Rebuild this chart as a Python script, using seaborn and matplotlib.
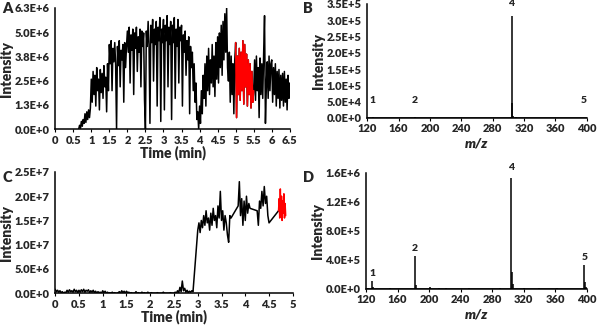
import numpy as np
import pandas as pd
import matplotlib.pyplot as plt
import matplotlib.ticker as mticker
import seaborn as sns

# ===============================
# Data
# ===============================
# Panel A: chromatogram, intensity in 1E+6, scans every 0.025 min from 0.65 min
a_start = 0.65
a_step = 0.025
a_vals = [
    0.0, 0.2, 0.05, 0.4, 0.15, 0.5, 0.3, 0.8, 0.35, 0.9, 0.5, 1.0, 0.6, 1.1,
    2.6, 1.4, 3.0, 1.8, 2.8, 1.2, 3.2, 2.0, 2.6, 1.0, 3.1, 1.9, 2.9, 1.6, 3.3, 2.2, 2.7, 0.9, 3.4, 2.0,
    4.4, 3.4, 4.6, 2.0, 4.2, 3.5, 4.5, 3.3, 0.0, 4.3, 3.3, 4.6, 2.2, 4.1, 3.6, 4.4, 1.4, 4.5, 3.2, 4.3,
    5.1, 4.0, 5.3, 2.4, 4.9, 4.1, 5.2, 1.8, 5.0, 4.2, 5.3, 3.0, 4.8, 4.0, 5.2, 2.2, 5.1, 4.3, 5.0, 1.5,
    0.0, 5.1, 4.3, 5.6, 4.4, 0.3, 5.4, 4.5, 5.7, 2.5, 5.2, 4.4, 5.6, 1.2, 5.3, 4.6, 5.8, 0.4, 5.2, 4.5,
    5.7, 1.0, 5.4, 4.6, 5.9, 2.2, 5.3, 4.4, 5.6, 0.5, 5.4, 4.5, 5.8, 1.6, 5.2, 4.3, 5.7, 2.4, 5.3, 4.6,
    5.4, 1.2, 4.9, 4.0, 5.1, 2.8, 4.6, 3.6, 4.8, 0.8, 4.3, 3.2, 4.0, 2.0, 3.4, 1.4, 2.4, 0.5, 0.9, 0.0,
    1.2, 0.3, 2.0, 0.8, 2.8, 1.6, 3.4, 1.2, 3.8, 2.0, 4.2, 1.8, 3.6, 2.4, 4.4, 2.2, 3.8, 1.7, 4.5, 2.6,
    4.8, 2.4, 5.0, 3.2, 5.4, 2.8, 5.6, 3.6, 6.0, 4.0, 6.3, 3.2, 2.5, 4.0, 1.4, 3.8, 1.8, 3.4, 0.8, 3.6,
    4.5, 0.6, 3.8, 1.8, 4.2, 1.5, 4.0, 2.0, 4.6, 1.3, 4.4, 2.2, 3.9, 1.2, 3.6, 1.8, 3.4, 1.1, 3.0, 1.4,
    2.0, 3.6, 1.5, 3.8, 2.0, 3.2, 0.6, 3.7, 1.8, 3.4, 1.6, 3.9, 5.9, 0.3, 2.2, 3.5, 1.6, 3.8, 2.0, 3.4,
    3.6, 1.4, 3.2, 1.8, 3.4, 1.2, 3.0, 1.6, 3.1, 1.1, 2.8, 1.5, 2.9, 1.2, 3.0, 1.4, 2.6, 1.0, 2.8, 1.6, 2.4,
]
a_red = (5.0, 5.5)

# Panel C: chromatogram, intensity in 1E+7, segments of scans every 0.025 min
c_starts = [0.0, 3.0, 3.85, 4.25]
c_segs = [
    [0.08, 0.03, 0.06, 0.02, 0.05, 0.01, 0.03, 0.0, 0.02, 0.01, 0.06, 0.02, 0.07, 0.03, 0.05, 0.02, 0.08, 0.03, 0.06, 0.01,
     0.06, 0.02, 0.07, 0.03, 0.08, 0.02, 0.06, 0.04, 0.07, 0.01, 0.05, 0.02, 0.06, 0.01, 0.04, 0.0, 0.03, 0.01, 0.02, 0.0,
     0.05, 0.01, 0.04, 0.0, 0.02, 0.0, 0.01, 0.0, 0.02, 0.0, 0.01, 0.0, 0.0, 0.01, 0.03, 0.0, 0.05, 0.01, 0.04, 0.0,
     0.04, 0.01, 0.02, 0.0, 0.01, 0.0, 0.0, 0.0, 0.03, 0.0, 0.01, 0.0, 0.0, 0.02, 0.0, 0.01, 0.0, 0.0, 0.02, 0.0,
     0.0, 0.01, 0.0, 0.0, 0.0, 0.0, 0.01, 0.0, 0.0, 0.0, 0.0, 0.02, 0.0, 0.0, 0.0, 0.0, 0.0, 0.01, 0.0, 0.0,
     0.0, 0.02, 0.0, 0.05, 0.01, 0.12, 0.03, 0.25, 0.05, 0.1, 0.02, 0.06, 0.01, 0.04, 0.02, 0.05, 0.03],
    [1.3, 1.45, 1.25, 1.5, 1.35, 1.6, 1.4, 1.7, 1.45, 1.55, 1.3, 1.65, 1.4, 1.75, 1.5, 1.6, 1.35, 1.8, 1.55, 2.1,
     1.5, 1.7, 1.3, 1.6, 1.45, 1.2, 1.05, 1.6, 1.55],
    [1.8, 2.3, 1.6, 1.95, 1.4, 1.9, 1.5, 2.0, 1.65, 1.85, 1.75],
    [1.7, 1.4, 1.9, 1.75, 2.1, 1.8, 2.2, 1.85, 2.0, 1.6, 1.45],
]
c_red_start = 4.7
c_red_step = 0.0125
c_red_vals = [1.7, 1.95, 1.55, 2.15, 1.6, 2.0, 1.5, 1.9, 1.65, 2.05, 1.55, 1.85, 1.6]

# Panels B and D: mass spectra (m/z, intensity)
b_mz = [124, 127, 150, 181, 200, 250, 300, 303, 304, 305, 306, 310, 340, 380, 397]
b_int = [800, 1500, 600, 2500, 900, 500, 700, 3000, 312000, 45000, 6000, 1200, 700, 500, 1000]
b_labels = [(127, 40000, '1'), (181, 40000, '2'), (304, 337000, '4'), (396, 40000, '5')]

d_mz = [122, 128, 129, 150, 182, 183, 201, 213, 222, 250, 290, 304, 305, 306, 320, 340, 362, 397, 398, 399]
d_int = [5000, 110000, 20000, 6000, 450000, 50000, 25000, 8000, 7000, 5000, 6000,
         1530000, 230000, 60000, 15000, 6000, 9000, 330000, 90000, 30000]
d_labels = [(128, 150000, '1'), (182, 490000, '2'), (304, 1620000, '4'), (397, 370000, '5')]

# ===============================
# Build tables
# ===============================
a_df = pd.DataFrame({'time': a_start + a_step * np.arange(len(a_vals)),
                     'intensity': np.array(a_vals) * 1e6})
a_red_df = a_df[(a_df['time'] >= a_red[0] - 1e-9) & (a_df['time'] <= a_red[1] + 1e-9)]

c_time, c_int = [], []
for start, seg in zip(c_starts, c_segs):
    c_time += list(start + 0.025 * np.arange(len(seg)))
    c_int += seg
c_red_time = list(c_red_start + c_red_step * np.arange(len(c_red_vals)))
c_df = pd.DataFrame({'time': c_time + c_red_time[:1],
                     'intensity': np.array(c_int + c_red_vals[:1]) * 1e7})
c_red_df = pd.DataFrame({'time': c_red_time, 'intensity': np.array(c_red_vals) * 1e7})

# ===============================
# Style
# ===============================
sns.set_style('white')
plt.rcParams['font.family'] = ['Lato', 'DejaVu Sans']
plt.rcParams['font.weight'] = 'bold'
plt.rcParams['axes.labelweight'] = 'bold'

TICK_FS = 8
LABEL_FS = 10


def sci_fmt(v, pos):
    if v == 0:
        return '0.0E+0'
    exp = int(np.floor(np.log10(abs(v)) + 1e-9))
    return f'{v / 10 ** exp:.1f}E+{exp}'


def style_axes(ax):
    for side in ['top', 'right']:
        ax.spines[side].set_visible(False)
    for side in ['left', 'bottom']:
        ax.spines[side].set_color('black')
        ax.spines[side].set_linewidth(1.1)
    ax.tick_params(axis='both', labelsize=TICK_FS, length=2.5, width=0.8, color='black',
                   direction='out', bottom=True, left=False, pad=1.5)
    ax.yaxis.set_major_formatter(mticker.FuncFormatter(sci_fmt))
    for lab in ax.get_xticklabels() + ax.get_yticklabels():
        lab.set_fontweight('heavy')


fig = plt.figure(figsize=(6, 3.32), dpi=100)
axA = fig.add_axes([0.092, 0.611, 0.391, 0.365])
axB = fig.add_axes([0.612, 0.645, 0.366, 0.343])
axC = fig.add_axes([0.092, 0.117, 0.396, 0.365])
axD = fig.add_axes([0.610, 0.130, 0.368, 0.349])

# ===============================
# Panel A
# ===============================
sns.lineplot(data=a_df, x='time', y='intensity', color='black', lw=1.1,
             estimator=None, sort=False, ax=axA)
sns.lineplot(data=a_red_df, x='time', y='intensity', color='red', lw=1.1,
             estimator=None, sort=False, ax=axA)
axA.set_xlim(0, 6.5)
axA.set_ylim(0, 6.3e6)
axA.set_xticks(np.arange(0, 6.51, 0.5))
axA.xaxis.set_major_formatter(mticker.FuncFormatter(lambda v, p: f'{v:g}'))
axA.set_yticks(np.linspace(0, 6.3e6, 6))
axA.set_xlabel('Time (min)', fontsize=LABEL_FS, fontweight='heavy', labelpad=0)
axA.set_ylabel('Intensity', fontsize=LABEL_FS, fontweight='heavy', labelpad=1)
style_axes(axA)

# ===============================
# Panel B
# ===============================
axB.vlines(b_mz, 0, b_int, color='black', lw=1.1)
axB.axhline(0, color='black', lw=1.1)
for x, y, t in b_labels:
    axB.text(x, y, t, fontsize=7.5, fontweight='heavy', ha='center', va='bottom')
axB.set_xlim(120, 400)
axB.set_ylim(0, 3.5e5)
axB.set_xticks(np.arange(120, 401, 40))
axB.set_yticks(np.arange(0, 3.51e5, 5e4))
axB.set_xlabel('m/z', fontsize=LABEL_FS, fontstyle='italic', fontweight='heavy', labelpad=2)
axB.set_ylabel('Intensity', fontsize=LABEL_FS, fontweight='heavy', labelpad=1)
style_axes(axB)

# ===============================
# Panel C
# ===============================
sns.lineplot(data=c_df, x='time', y='intensity', color='black', lw=1.1,
             estimator=None, sort=False, ax=axC)
sns.lineplot(data=c_red_df, x='time', y='intensity', color='red', lw=1.1,
             estimator=None, sort=False, ax=axC)
axC.set_xlim(0, 5)
axC.set_ylim(0, 2.5e7)
axC.set_xticks(np.arange(0, 5.01, 0.5))
axC.xaxis.set_major_formatter(mticker.FuncFormatter(lambda v, p: f'{v:g}'))
axC.set_yticks(np.arange(0, 2.51e7, 5e6))
axC.set_xlabel('Time (min)', fontsize=LABEL_FS, fontweight='heavy', labelpad=0)
axC.set_ylabel('Intensity', fontsize=LABEL_FS, fontweight='heavy', labelpad=1)
style_axes(axC)

# ===============================
# Panel D
# ===============================
axD.vlines(d_mz, 0, d_int, color='black', lw=1.1)
axD.axhline(0, color='black', lw=1.1)
for x, y, t in d_labels:
    axD.text(x, y, t, fontsize=7.5, fontweight='heavy', ha='center', va='bottom')
axD.set_xlim(120, 400)
axD.set_ylim(0, 1.6e6)
axD.set_xticks(np.arange(120, 401, 40))
axD.set_yticks(np.arange(0, 1.61e6, 4e5))
axD.set_xlabel('m/z', fontsize=LABEL_FS, fontstyle='italic', fontweight='heavy', labelpad=2)
axD.set_ylabel('Intensity', fontsize=LABEL_FS, fontweight='heavy', labelpad=1)
style_axes(axD)

# Panel letters
for x, y, t in [(0.004, 0.975, 'A'), (0.505, 0.975, 'B'), (0.004, 0.465, 'C'), (0.505, 0.465, 'D')]:
    fig.text(x, y, t, fontsize=10.5, fontweight='heavy', va='center')

plt.savefig('out.png', dpi=100)
plt.close()
